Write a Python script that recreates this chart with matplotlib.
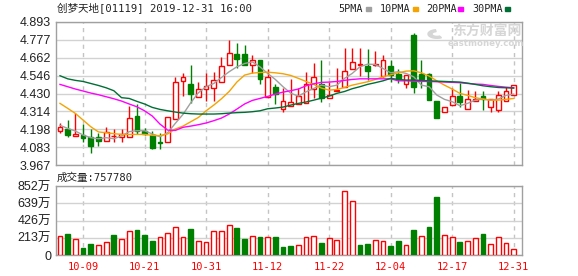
import numpy as np
import matplotlib.pyplot as plt
from matplotlib.patches import Rectangle, Wedge

# tick labels
date_labels = ['10-09', '10-21', '10-31', '11-12', '11-22', '12-04', '12-17', '12-31']
date_idx = [3, 11, 19, 27, 35, 43, 51, 59]
price_ticks = [3.967, 4.083, 4.198, 4.314, 4.430, 4.546, 4.662, 4.777, 4.893]
vol_ticks = [0, 213, 426, 639, 852]          # 万

# daily candles
opens = [4.185, 4.200, 4.153, 4.161, 4.146, 4.150, 4.120, 4.152, 4.146, 4.146,
         4.284, 4.185, 4.159, 4.114, 4.116, 4.262, 4.508, 4.491, 4.405, 4.461,
         4.467, 4.506, 4.612, 4.685, 4.685, 4.612, 4.650, 4.407, 4.469, 4.331,
         4.349, 4.359, 4.370, 4.456, 4.489, 4.402, 4.443, 4.474, 4.588, 4.612,
         4.605, 4.612, 4.545, 4.609, 4.555, 4.491, 4.808, 4.555, 4.555, 4.381,
         4.308, 4.353, 4.413, 4.327, 4.383, 4.411, 4.344, 4.323, 4.383, 4.422]
highs = [4.237, 4.258, 4.301, 4.230, 4.198, 4.172, 4.211, 4.200, 4.200, 4.349,
         4.361, 4.204, 4.185, 4.172, 4.280, 4.534, 4.560, 4.614, 4.502, 4.560,
         4.568, 4.668, 4.775, 4.756, 4.745, 4.678, 4.650, 4.586, 4.491, 4.465,
         4.521, 4.467, 4.571, 4.629, 4.650, 4.506, 4.592, 4.726, 4.726, 4.726,
         4.717, 4.704, 4.678, 4.646, 4.586, 4.553, 4.823, 4.650, 4.565, 4.381,
         4.340, 4.463, 4.500, 4.452, 4.448, 4.443, 4.396, 4.448, 4.474, 4.482]
lows = [4.172, 4.146, 4.153, 4.118, 4.047, 4.092, 4.120, 4.118, 4.118, 4.146,
        4.165, 4.161, 4.073, 4.073, 4.116, 4.262, 4.415, 4.370, 4.405, 4.381,
        4.381, 4.506, 4.612, 4.596, 4.612, 4.560, 4.491, 4.407, 4.364, 4.308,
        4.349, 4.359, 4.370, 4.398, 4.377, 4.402, 4.443, 4.474, 4.588, 4.543,
        4.515, 4.607, 4.538, 4.506, 4.495, 4.467, 4.435, 4.463, 4.387, 4.273,
        4.308, 4.353, 4.344, 4.327, 4.383, 4.323, 4.312, 4.312, 4.383, 4.422]
closes = [4.213, 4.163, 4.166, 4.144, 4.092, 4.120, 4.178, 4.158, 4.165, 4.271,
          4.187, 4.170, 4.077, 4.108, 4.280, 4.502, 4.534, 4.424, 4.461, 4.480,
          4.515, 4.605, 4.695, 4.655, 4.612, 4.650, 4.525, 4.540, 4.426, 4.379,
          4.374, 4.411, 4.489, 4.534, 4.398, 4.418, 4.452, 4.577, 4.631, 4.624,
          4.577, 4.624, 4.650, 4.553, 4.527, 4.553, 4.474, 4.527, 4.387, 4.273,
          4.340, 4.411, 4.374, 4.392, 4.396, 4.392, 4.396, 4.420, 4.443, 4.482]
volume = [234, 263, 194, 86, 140, 123, 160, 247, 194, 296,
          313, 247, 173, 222, 272, 344, 218, 321, 173, 160,
          296, 296, 370, 333, 198, 234, 222, 222, 222, 99,
          111, 123, 222, 234, 152, 210, 185, 790, 667, 123,
          140, 185, 173, 111, 173, 123, 309, 234, 346, 716,
          247, 222, 160, 173, 206, 259, 136, 222, 148, 75.778]   # 万

# moving averages as drawn
ma5 = [4.224, 4.204, 4.187, 4.161, 4.144, 4.137, 4.144, 4.137, 4.155, 4.183,
       4.189, 4.189, 4.168, 4.150, 4.176, 4.237, 4.295, 4.370, 4.435, 4.474,
       4.495, 4.534, 4.571, 4.603, 4.624, 4.635, 4.603, 4.560, 4.521, 4.474,
       4.432, 4.413, 4.441, 4.463, 4.484, 4.474, 4.484, 4.528, 4.560, 4.603,
       4.620, 4.618, 4.592, 4.564, 4.571, 4.560, 4.538, 4.484, 4.474, 4.420,
       4.392, 4.377, 4.351, 4.366, 4.387, 4.394, 4.387, 4.394, 4.418, 4.426]
ma10 = [4.366, 4.334, 4.301, 4.258, 4.215, 4.181, 4.176, 4.170, 4.165, 4.165,
        4.165, 4.165, 4.159, 4.157, 4.168, 4.200, 4.219, 4.247, 4.275, 4.318,
        4.355, 4.396, 4.443, 4.504, 4.549, 4.562, 4.566, 4.568, 4.564, 4.558,
        4.547, 4.528, 4.508, 4.489, 4.465, 4.452, 4.456, 4.469, 4.484, 4.495,
        4.506, 4.521, 4.538, 4.551, 4.564, 4.575, 4.577, 4.564, 4.543, 4.512,
        4.484, 4.459, 4.431, 4.418, 4.403, 4.394, 4.387, 4.387, 4.392, 4.398]
ma20 = [4.489, 4.474, 4.459, 4.446, 4.433, 4.422, 4.409, 4.396, 4.381, 4.362,
        4.344, 4.318, 4.284, 4.232, 4.193, 4.191, 4.211, 4.219, 4.228, 4.239,
        4.254, 4.271, 4.297, 4.329, 4.362, 4.385, 4.398, 4.411, 4.426, 4.439,
        4.448, 4.459, 4.480, 4.493, 4.502, 4.504, 4.508, 4.515, 4.521, 4.525,
        4.525, 4.525, 4.525, 4.525, 4.512, 4.512, 4.510, 4.508, 4.508, 4.506,
        4.504, 4.502, 4.500, 4.495, 4.491, 4.489, 4.482, 4.476, 4.471, 4.467]
ma30 = [4.545, 4.525, 4.515, 4.508, 4.495, 4.482, 4.467, 4.448, 4.403, 4.398,
        4.379, 4.362, 4.340, 4.327, 4.318, 4.310, 4.303, 4.299, 4.297, 4.297,
        4.297, 4.299, 4.303, 4.306, 4.308, 4.312, 4.318, 4.331, 4.336, 4.342,
        4.355, 4.366, 4.375, 4.387, 4.400, 4.413, 4.431, 4.443, 4.461, 4.474,
        4.489, 4.500, 4.512, 4.528, 4.521, 4.517, 4.517, 4.515, 4.512, 4.510,
        4.508, 4.506, 4.504, 4.497, 4.489, 4.480, 4.474, 4.469, 4.467, 4.465]

RED = '#ff0000'
GREEN = '#008000'
MA_COLORS = ['#a0a0a0', '#f5a300', '#ff00ff', '#006f35']
GRID = '#d2d2d2'
FRAME = '#a0a0a0'
CJK = ['DejaVu Sans Mono', 'Noto Sans CJK SC']
NUM = ['Liberation Sans', 'Noto Sans CJK SC']

W, H = 578, 276
fig = plt.figure(figsize=(W / 100, H / 100), dpi=100)


def box(l, t, r, b):
    return [l / W, 1 - b / H, (r - l) / W, (b - t) / H]


ax = fig.add_axes(box(56, 22, 522, 165))
axv = fig.add_axes(box(56, 186, 522, 255))

x = np.arange(len(closes))
o = np.array(opens)
c = np.array(closes)
up = c >= o

for a in (ax, axv):
    a.set_xlim(-0.52, 60.08)
    for s in a.spines.values():
        s.set_color(FRAME)
        s.set_linewidth(1)
    a.tick_params(length=0)
    a.yaxis.grid(True, color=GRID, lw=1)
    a.set_axisbelow(True)
    for i in date_idx:
        a.axvline(i, color='#c4c4c4', lw=1, ls=(0, (3, 3)), zorder=0.5)

# price panel
ax.set_ylim(price_ticks[0], price_ticks[-1])
ax.set_yticks(price_ticks)
ax.set_yticklabels(['%.3f' % v for v in price_ticks], family=NUM, fontsize=9, color='#222222')
ax.set_xticks([])

bw = 0.62
ax.vlines(x[up], np.array(lows)[up], np.array(highs)[up], color=RED, lw=1, zorder=2)
ax.vlines(x[~up], np.array(lows)[~up], np.array(highs)[~up], color=GREEN, lw=1, zorder=2)
body_lo = np.minimum(o, c)
body_h = np.maximum(np.abs(c - o), 0.002)
ax.bar(x[up], body_h[up], bw, bottom=body_lo[up], facecolor='white', edgecolor=RED, lw=1, zorder=3)
ax.bar(x[~up], body_h[~up], bw, bottom=body_lo[~up], facecolor=GREEN, edgecolor=GREEN, lw=1, zorder=3)

for ma, col in zip([ma5, ma10, ma20, ma30], MA_COLORS):
    ax.plot(x, ma, color=col, lw=1, zorder=4)

# volume panel: colour by close vs previous close
prev = np.r_[o[0], c[:-1]]
vup = c >= prev
vol = np.array(volume)
axv.set_ylim(0, vol_ticks[-1])
axv.set_yticks(vol_ticks)
axv.set_yticklabels(['0'] + ['%d万' % v for v in vol_ticks[1:]], family=NUM, fontsize=9, color='#222222')
axv.bar(x[vup], vol[vup], bw, facecolor='white', edgecolor=RED, lw=1, zorder=3)
axv.bar(x[~vup], vol[~vup], bw, facecolor=GREEN, edgecolor=GREEN, lw=1, zorder=3)
axv.set_xticks(date_idx)
axv.set_xticklabels(date_labels, family='DejaVu Sans Mono', fontsize=7.5, color=RED)
axv.tick_params(axis='x', pad=5)

# header texts
fig.text(57 / W, 1 - 9 / H, '创梦天地[01119] 2019-12-31 16:00', family=CJK, fontsize=7.6,
         color='#222222', va='center', ha='left')
fig.text(57 / W, 1 - 178 / H, '成交量:%d' % round(volume[-1] * 10000), family=CJK, fontsize=7.6,
         color='#222222', va='center', ha='left')

# legend
legend_items = [('5PMA', 338), ('10PMA', 380), ('20PMA', 426), ('30PMA', 472)]
sw_x = [366, 413, 458, 505]
for (lab, lx), sx, col in zip(legend_items, sw_x, MA_COLORS):
    fig.text(lx / W, 1 - 9 / H, lab, family='DejaVu Sans Mono', fontsize=7.3,
             color='#222222', va='center', ha='left')
    fig.patches.append(Rectangle((sx / W, 1 - 11 / H), 5 / W, 4 / H, color=col,
                                 transform=fig.transFigure, figure=fig))

# watermark
wm = '#d6d6d6'
fig.text(487 / W, 1 - 31 / H, '东方财富网', family=['Noto Sans CJK SC'], fontsize=10,
         fontweight='bold', color=wm, ha='center', va='center')
fig.text(486 / W, 1 - 43 / H, 'eastmoney.com', family=['DejaVu Sans'], fontsize=6.2,
         fontweight='bold', color=wm, ha='center', va='center')
ax.add_patch(Wedge((437 / W, 1 - 34 / H), 9 / W, 100, 300, width=4 / W,
                   transform=fig.transFigure, color=wm, zorder=1))

fig.savefig('out.png', dpi=100)
